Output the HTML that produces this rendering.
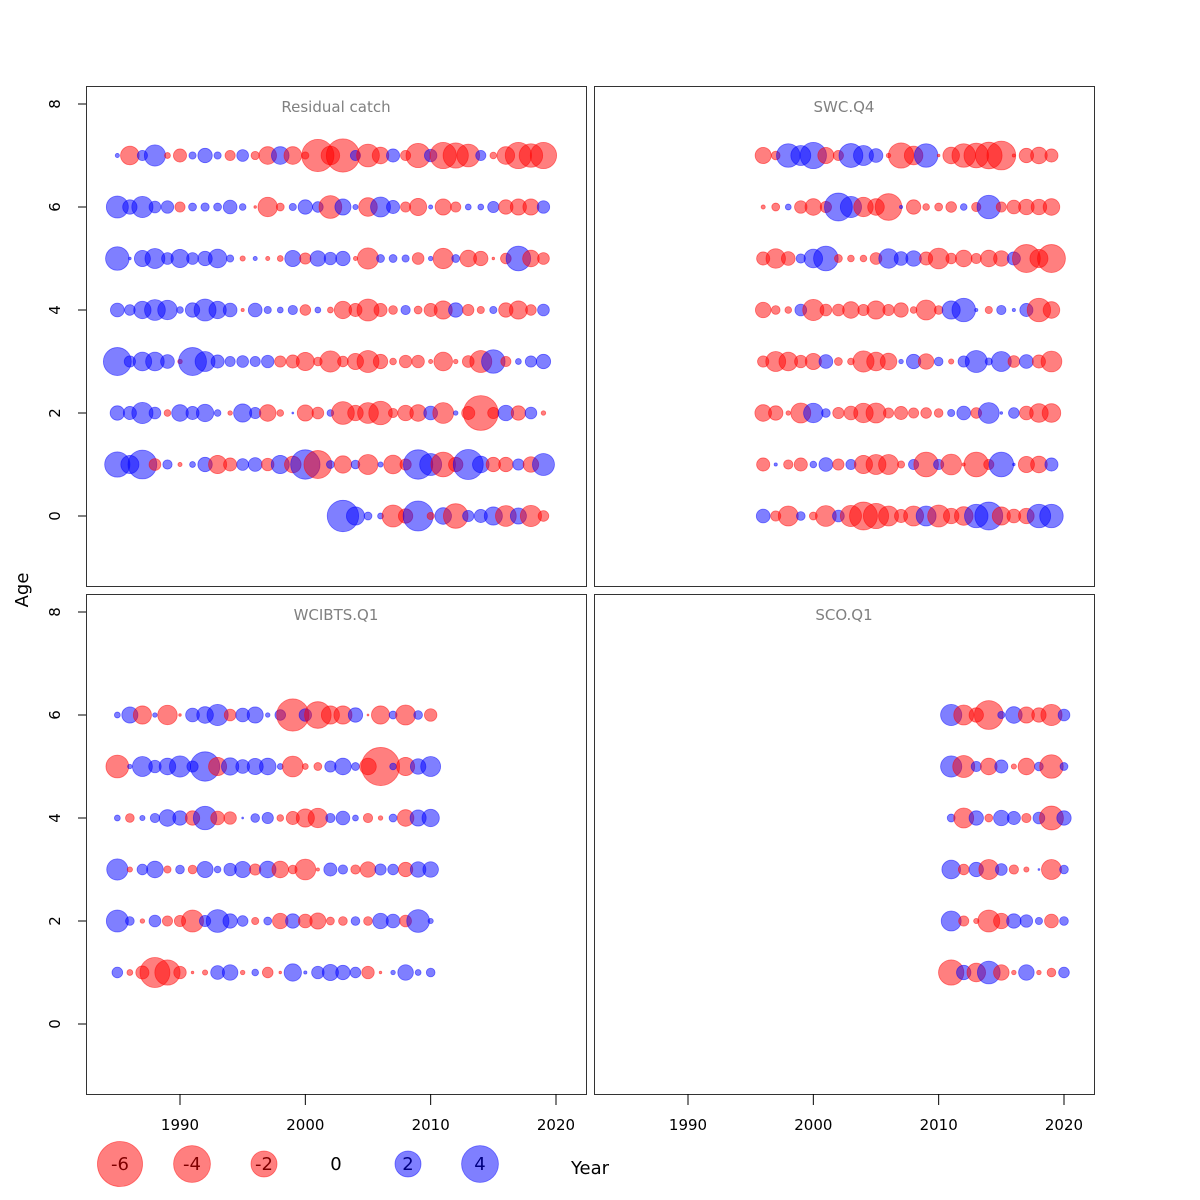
<!DOCTYPE html>
<html><head><meta charset="utf-8"><style>
html,body{margin:0;padding:0;background:#fff;}
svg{display:block;font-family:"DejaVu Sans","Liberation Sans",sans-serif;}
</style></head><body>
<svg id="chart" width="1200" height="1200" viewBox="0 0 1200 1200"></svg>
<script>
// ---- data ----
const catchYears = [1985,1986,1987,1988,1989,1990,1991,1992,1993,1994,1995,1996,1997,1998,1999,2000,2001,2002,2003,2004,2005,2006,2007,2008,2009,2010,2011,2012,2013,2014,2015,2016,2017,2018,2019];
const catchAges = [0,1,2,3,4,5,6,7];
const catchAge0 = [null,null,null,null,null,null,null,null,null,null,null,null,null,null,null,null,null,null,2.85,0.95,0.18,0.1,-1.4,-0.6,2.6,-0.15,0.8,-1.75,0.37,0.5,0.95,-1.25,0.75,-1.3,-0.33];
const catchAge1 = [1.85,0.95,2.4,-0.4,0.25,-0.05,0.1,0.6,-0.95,-0.5,0.4,0.55,-0.45,0.95,-0.8,2.5,-2.25,0.18,-0.87,0.22,-1.15,0.08,-1.0,-0.37,2.5,1.4,-1.75,-0.6,2.6,0.8,-0.6,-0.6,0.37,-0.7,1.4];
const catchAge2 = [0.6,0.5,1.3,0.4,-0.13,0.8,0.5,0.87,0.13,-0.06,0.95,0.37,-0.8,-0.13,0.01,-0.75,-0.4,0.13,-1.5,-0.7,-1.25,-1.6,-0.25,-0.7,-0.8,0.55,-1.25,0.06,-0.5,-3.5,-0.37,0.7,-0.6,0.4,-0.06];
const catchAge3 = [2.25,0.37,1.0,1.0,0.55,-0.06,2.25,1.15,0.5,0.3,0.4,0.3,0.45,-0.37,-0.5,-0.95,-0.22,-1.3,-0.33,-0.75,-1.4,-0.6,-0.13,-0.45,-0.45,-0.05,-1.0,-0.06,-0.4,-1.4,1.6,-0.3,0.1,0.37,0.6];
const catchAge4 = [0.55,0.33,0.87,1.25,1.1,0.13,0.6,1.4,0.87,0.55,-0.03,0.55,0.15,0.1,0.25,-0.33,0.1,-0.1,-0.87,-0.5,-1.4,-0.5,-0.22,0.25,-0.18,-0.5,-0.95,0.6,-0.37,-0.15,0.15,-0.6,-0.95,-0.33,0.4];
const catchAge5 = [1.6,0.02,0.75,1.15,0.4,0.95,0.4,0.6,1.0,0.15,-0.08,0.05,-0.05,-0.1,0.75,-0.37,0.7,0.45,0.6,-0.05,-1.3,0.18,0.18,0.15,-0.4,0.06,-1.2,0.18,-0.8,-0.6,-0.02,-0.33,1.75,-0.8,-0.4];
const catchAge6 = [1.4,0.6,1.3,0.4,0.45,-0.3,0.18,0.2,0.18,0.55,0.13,-0.02,-1.1,-0.18,0.15,0.6,0.33,-1.5,0.75,0.08,-1.0,1.15,0.5,-0.3,-0.85,0.05,-0.75,-0.3,0.1,0.1,0.37,-0.6,-0.75,-0.75,0.45];
const catchAge7 = [0.05,-1.0,0.3,1.3,-0.1,-0.5,0.15,0.6,0.15,-0.3,0.4,-0.2,-0.9,0.9,-0.9,-0.15,-3.0,-1.0,-3.2,0.3,-1.5,-0.8,0.5,-0.3,-1.7,0.45,-2.0,-1.85,-1.5,0.3,-0.13,-0.9,-2.0,-1.6,-2.0];

const swcYears = [1996,1997,1998,1999,2000,2001,2002,2003,2004,2005,2006,2007,2008,2009,2010,2011,2012,2013,2014,2015,2016,2017,2018,2019];
const swcAge0 = [0.55,-0.3,-1.15,0.22,-0.18,-1.25,0.4,-1.3,-2.25,-1.85,-1.15,-0.5,-1.15,1.15,-1.4,-0.7,-1.0,1.6,2.25,-0.95,-0.55,-0.7,1.6,1.6];
const swcAge1 = [-0.5,0.03,-0.25,-0.5,0.13,0.55,-0.37,0.3,-0.95,-1.15,-1.15,-0.15,0.3,-1.75,0.3,-1.25,-0.03,-1.75,-0.3,1.75,0.02,-0.75,-0.8,0.5];
const swcAge2 = [-0.8,-0.6,-0.06,-1.15,1.1,0.22,-0.37,-0.55,-1.1,-1.15,-0.3,-0.5,-0.3,-0.33,-0.22,0.15,0.55,-0.33,1.25,0.02,0.33,-0.55,-1.0,-1.0];
const swcAge3 = [-0.37,-1.15,-1.0,-0.45,-0.75,0.55,-0.18,-0.13,-1.3,-1.0,-0.8,0.06,0.6,-0.7,0.22,-0.08,0.37,1.4,0.15,1.15,-0.4,0.55,-0.5,-1.25];
const swcAge4 = [-0.7,-0.22,-0.13,0.4,-1.3,-0.4,-0.4,-0.8,-0.37,-0.95,-0.37,-0.6,-0.13,-1.15,-0.22,0.95,1.6,0.03,-0.15,0.25,0.03,0.5,-1.6,-0.8];
const swcAge5 = [-0.5,-1.1,-0.55,0.25,1.0,1.75,-0.18,-0.13,-0.13,-0.4,1.1,0.55,0.7,-0.5,-1.25,-0.33,-0.8,-0.3,-0.8,-0.7,0.5,-2.25,-0.95,-2.25];
const swcAge6 = [-0.05,-0.18,0.1,-0.45,-0.8,-0.37,2.25,1.3,-1.1,-0.8,-2.05,0.03,-0.6,-0.13,-0.18,-0.33,0.13,-0.25,1.6,-0.3,-0.55,-0.7,-0.7,-0.8];
const swcAge7 = [-0.75,-0.22,1.6,1.15,2.0,-0.75,-0.3,1.65,1.15,0.55,-0.06,-1.85,-1.0,1.6,-0.02,-0.8,-1.6,-1.75,-2.05,-2.4,-0.03,-0.6,-0.8,-0.5];

const wciYears = [1985,1986,1987,1988,1989,1990,1991,1992,1993,1994,1995,1996,1997,1998,1999,2000,2001,2002,2003,2004,2005,2006,2007,2008,2009,2010];
const wciAge1 = [0.33,-0.1,-0.5,-2.6,-1.85,-0.45,-0.02,-0.08,0.55,0.7,-0.06,0.13,-0.33,-0.02,0.87,0.03,0.45,0.75,0.6,0.33,-0.45,-0.02,0.06,0.7,0.1,0.22];
const wciAge2 = [1.4,0.22,-0.06,0.4,-0.3,-0.37,-1.4,0.37,1.5,0.6,0.33,-0.15,0.18,-0.7,0.6,-0.55,-0.75,-0.18,-0.22,0.22,-0.22,0.7,0.55,-0.4,1.5,0.08];
const wciAge3 = [1.3,-0.08,0.33,0.8,-0.15,0.22,-0.22,0.75,0.13,0.45,0.75,-0.37,0.8,-0.8,-0.22,-1.25,-0.03,0.5,0.25,-0.25,-0.7,0.37,0.33,-0.6,0.7,0.7];
const wciAge4 = [0.1,-0.22,0.08,0.25,0.8,0.6,-0.6,1.6,-0.55,-0.45,0.01,0.22,0.37,-0.13,-0.5,-0.95,-1.1,0.25,0.55,0.1,-0.25,-0.06,0.18,-0.8,0.75,0.87];
const wciAge5 = [-1.5,0.06,1.15,0.45,0.8,1.3,0.37,2.5,-0.95,0.87,0.55,0.75,0.8,0.1,-1.25,-0.1,-0.18,0.37,0.8,0.18,-0.8,-4.2,0.13,-0.95,0.7,1.15];
const wciAge6 = [0.1,0.75,-0.95,0.06,-1.1,-0.02,0.55,0.8,1.3,-0.4,0.55,0.75,0.06,0.33,-3.0,0.45,-2.05,-0.95,-0.95,0.6,-0.01,-0.95,0.18,-1.15,0.22,-0.45];

const scoYears = [2011,2012,2013,2014,2015,2016,2017,2018,2019,2020];
const scoAge1 = [-1.85,0.6,-1.0,1.5,-0.7,-0.06,0.7,-0.06,-0.22,0.33];
const scoAge2 = [1.15,-0.3,-0.08,-1.4,-0.7,0.6,0.45,0.15,-0.55,0.22];
const scoAge3 = [1.0,-0.33,0.6,-1.15,0.4,-0.25,-0.08,0.01,-1.15,0.22];
const scoAge4 = [0.18,-1.15,0.6,-0.18,0.7,0.5,-0.25,0.4,-1.65,0.6];
const scoAge5 = [1.3,-1.4,0.3,-0.8,0.5,-0.08,-0.8,0.22,-1.6,0.18];
const scoAge6 = [1.3,-1.15,-0.6,-2.4,0.15,0.8,-0.75,-0.6,-1.3,0.4];

const xTicks = [1990,2000,2010,2020];
const yTicks = [0,2,4,6,8];
const legendValues = [-6,-4,-2,0,2,4];

// ---- rendering ----
const NS = "http://www.w3.org/2000/svg";
const svg = document.getElementById('chart');
function mk(tag, attrs, parent){ const e=document.createElementNS(NS,tag); for(const k in attrs) e.setAttribute(k,attrs[k]); (parent||svg).appendChild(e); return e; }

const panels = [
  {title:"Residual catch", x0:86, y0:86, years:catchYears, rows:[[0,catchAge0],[1,catchAge1],[2,catchAge2],[3,catchAge3],[4,catchAge4],[5,catchAge5],[6,catchAge6],[7,catchAge7]], yAxis:true, xAxis:false, slug:"residual-catch"},
  {title:"SWC.Q4", x0:594, y0:86, years:swcYears, rows:[[0,swcAge0],[1,swcAge1],[2,swcAge2],[3,swcAge3],[4,swcAge4],[5,swcAge5],[6,swcAge6],[7,swcAge7]], yAxis:false, xAxis:false, slug:"swc-q4"},
  {title:"WCIBTS.Q1", x0:86, y0:594, years:wciYears, rows:[[1,wciAge1],[2,wciAge2],[3,wciAge3],[4,wciAge4],[5,wciAge5],[6,wciAge6]], yAxis:true, xAxis:true, slug:"wcibts-q1"},
  {title:"SCO.Q1", x0:594, y0:594, years:scoYears, rows:[[1,scoAge1],[2,scoAge2],[3,scoAge3],[4,scoAge4],[5,scoAge5],[6,scoAge6]], yAxis:false, xAxis:true, slug:"sco-q1"}
];
const W=500, H=500;
const R_DATA = 9.3, R_LEG = 9.2;
const RED="rgba(255,0,0,0.5)", BLUE="rgba(0,0,255,0.5)";

panels.forEach(p=>{
  const g = mk('g',{});
  
  
  const xs = yr => p.x0 + 94 + (yr-1990)*12.533;
  const ys = age => p.y0 + 430 - age*51.5;
  const frame = mk('rect',{x:p.x0+0.5,y:p.y0+0.5,width:W,height:H,fill:'none',stroke:'#333','stroke-width':1},g);
  
  
  const t = mk('text',{x:p.x0+W/2,y:p.y0+26,'text-anchor':'middle','font-size':15,fill:'#808080'},g);
  t.textContent = p.title;
  
  
  p.rows.forEach(([age,vals])=>{
    vals.forEach((v,i)=>{
      if(v===null||v===undefined) return;
      const r = R_DATA*Math.sqrt(Math.abs(v));
      const col = v<0?RED:BLUE;
      const c = mk('circle',{cx:xs(p.years[i]),cy:ys(age),r:Math.max(r,0.8),fill:col,stroke:col,'stroke-width':0.8},g);
      
      
    });
  });
  if(p.yAxis){
    yTicks.forEach(v=>{
      const y=ys(v);
      mk('line',{x1:p.x0,x2:p.x0-8,y1:y,y2:y,stroke:'#000'},g);
      const tl = mk('text',{x:0,y:0,'font-size':15,'text-anchor':'middle',transform:`translate(${p.x0-26},${y}) rotate(-90)`},g);
      tl.textContent = v;
      
      
    });
  }
  if(p.xAxis){
    xTicks.forEach(v=>{
      const x=xs(v);
      mk('line',{x1:x,x2:x,y1:p.y0+H,y2:p.y0+H+11,stroke:'#000'},g);
      const tl = mk('text',{x:x,y:p.y0+H+36,'font-size':15,'text-anchor':'middle'},g);
      tl.textContent = v;
      
      
    });
  }
});

const ageLbl = mk('text',{x:0,y:0,'font-size':18,'text-anchor':'middle',transform:'translate(28,590) rotate(-90)'});
ageLbl.textContent='Age';



const yearLbl = mk('text',{x:590,y:1174,'font-size':18,'text-anchor':'middle'});
yearLbl.textContent='Year';



legendValues.forEach((v,i)=>{
  const cx = 120 + i*72, cy = 1164;
  const g = mk('g',{});
  
  
  if(v!==0){
    const col = v<0?RED:BLUE;
    mk('circle',{cx:cx,cy:cy,r:R_LEG*Math.sqrt(Math.abs(v)),fill:col,stroke:col,'stroke-width':0.8},g);
  }
  const t = mk('text',{x:cx,y:cy+6,'font-size':18,'text-anchor':'middle',fill:v<0?'#800000':(v>0?'#000080':'#000')},g);
  t.textContent = v;
});
</script>
</body></html>
